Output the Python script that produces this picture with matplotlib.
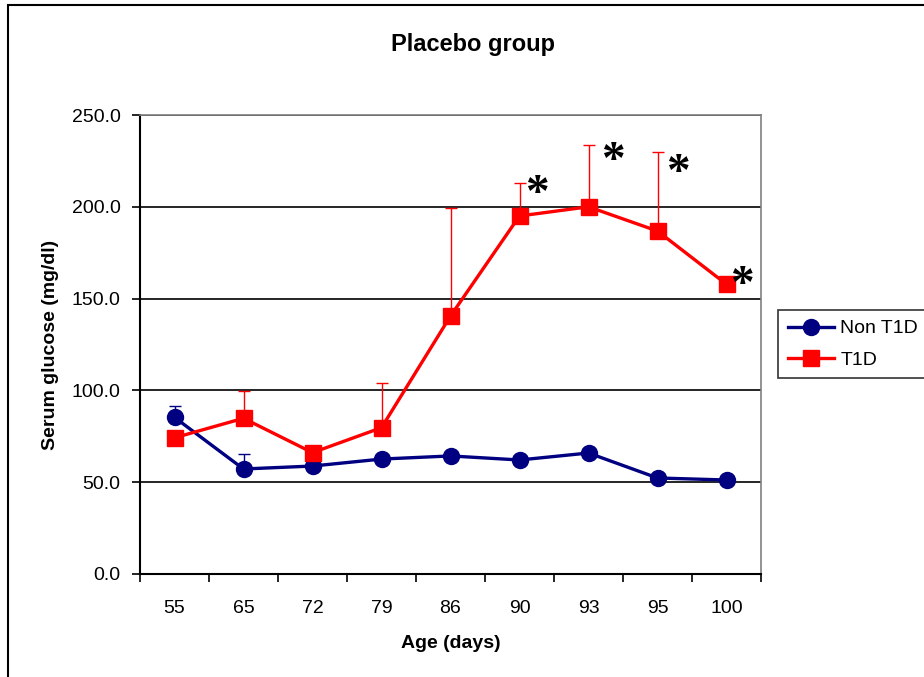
import numpy as np
import matplotlib.pyplot as plt
from matplotlib.patches import Rectangle

plt.rcParams['font.family'] = ['Liberation Sans', 'DejaVu Sans']

# alder (dager) og serumglukose (mg/dl), gjennomsnitt + øvre SD
ages = ['55', '65', '72', '79', '86', '90', '93', '95', '100']
non_t1d = [85.3, 57.2, 58.8, 62.6, 64.3, 62.1, 65.9, 52.3, 51.2]
non_t1d_err = [6.4, 8.2, 0, 0, 0, 0, 0, 2.5, 0]
t1d = [74.2, 84.8, 66.1, 79.7, 140.5, 195.0, 200.0, 186.8, 157.8]
t1d_err = [0, 15.0, 0, 24.5, 58.7, 18.0, 33.8, 43.2, 0]

# signifikans-stjerner: (indeks, dx, dy i px fra toppen av feilstolpen)
stars = [(5, 17, -12), (6, 24, -17), (7, 20, -22), (8, 15, -2)]

fig = plt.figure(figsize=(9.24, 6.77), dpi=100)
ax = fig.add_axes([140/924, 1-574/677, 621/924, 459/677])

x = np.arange(len(ages))
navy = '#000080'
red = '#FF0000'

# feilstolper bare oppover
ax.errorbar(x, non_t1d, yerr=[np.zeros(len(x)), non_t1d_err], fmt='none',
            ecolor=navy, elinewidth=1, capsize=4, capthick=1, zorder=3)
ax.errorbar(x, t1d, yerr=[np.zeros(len(x)), t1d_err], fmt='none',
            ecolor=red, elinewidth=1, capsize=4, capthick=1, zorder=3)

ax.plot(x, non_t1d, color=navy, lw=2.4, marker='o', ms=11.5, label='Non T1D', zorder=4)
ax.plot(x, t1d, color=red, lw=2.4, marker='s', ms=12, label='T1D', zorder=5)

for i, dx, dy in stars:
    top = t1d[i] + t1d_err[i]
    ax.annotate('*', xy=(x[i], top), xytext=(dx, dy),
                textcoords='offset pixels', ha='center', va='center',
                fontsize=34, fontweight='bold', family='Liberation Serif', zorder=6)

ax.set_xlim(-0.5, len(ages) - 0.5)
ax.set_ylim(0, 250)
ax.set_yticks(np.arange(0, 251, 50))
ax.set_yticklabels([f'{v:.1f}' for v in np.arange(0, 251, 50)])
ax.set_xticks(x)
ax.set_xticklabels(ages)
ax.set_xticks(np.arange(-0.5, len(ages), 1), minor=True)
ax.tick_params(axis='x', which='major', length=0, pad=19, labelsize=14)
ax.tick_params(axis='x', which='minor', length=6, width=1.2, color='black')
ax.tick_params(axis='y', length=6, width=1.2, labelsize=14, pad=8)

ax.yaxis.grid(True, color='black', lw=1.2)
ax.set_axisbelow(True)
for side in ['top', 'right']:
    ax.spines[side].set_color('#808080')
    ax.spines[side].set_linewidth(1.2)
for side in ['left', 'bottom']:
    ax.spines[side].set_color('black')
    ax.spines[side].set_linewidth(1.5)

ax.set_xlabel('Age (days)', fontsize=14, fontweight='bold', labelpad=13)
ax.set_ylabel('Serum glucose (mg/dl)', fontsize=14, fontweight='bold', labelpad=9)
fig.text(473/924, 1-45/677, 'Placebo group', ha='center', va='center',
         fontsize=17, fontweight='bold')

leg = fig.legend(loc='upper left', bbox_to_anchor=(778/924, 1-377/677, 160/924, 67/677),
                 mode='expand', fontsize=14, frameon=True, fancybox=False,
                 edgecolor='black', borderpad=0.5, handlelength=2.4,
                 labelspacing=0.7, handletextpad=0.3, borderaxespad=0)
leg.get_frame().set_linewidth(1.2)

# ytre ramme rundt hele diagrammet
fig.patches.append(Rectangle((8/924, -0.1), 1.2, 1 - 5/677 + 0.1, transform=fig.transFigure,
                             fill=False, edgecolor='black', lw=1.5))

fig.savefig('out.png', dpi=100)
